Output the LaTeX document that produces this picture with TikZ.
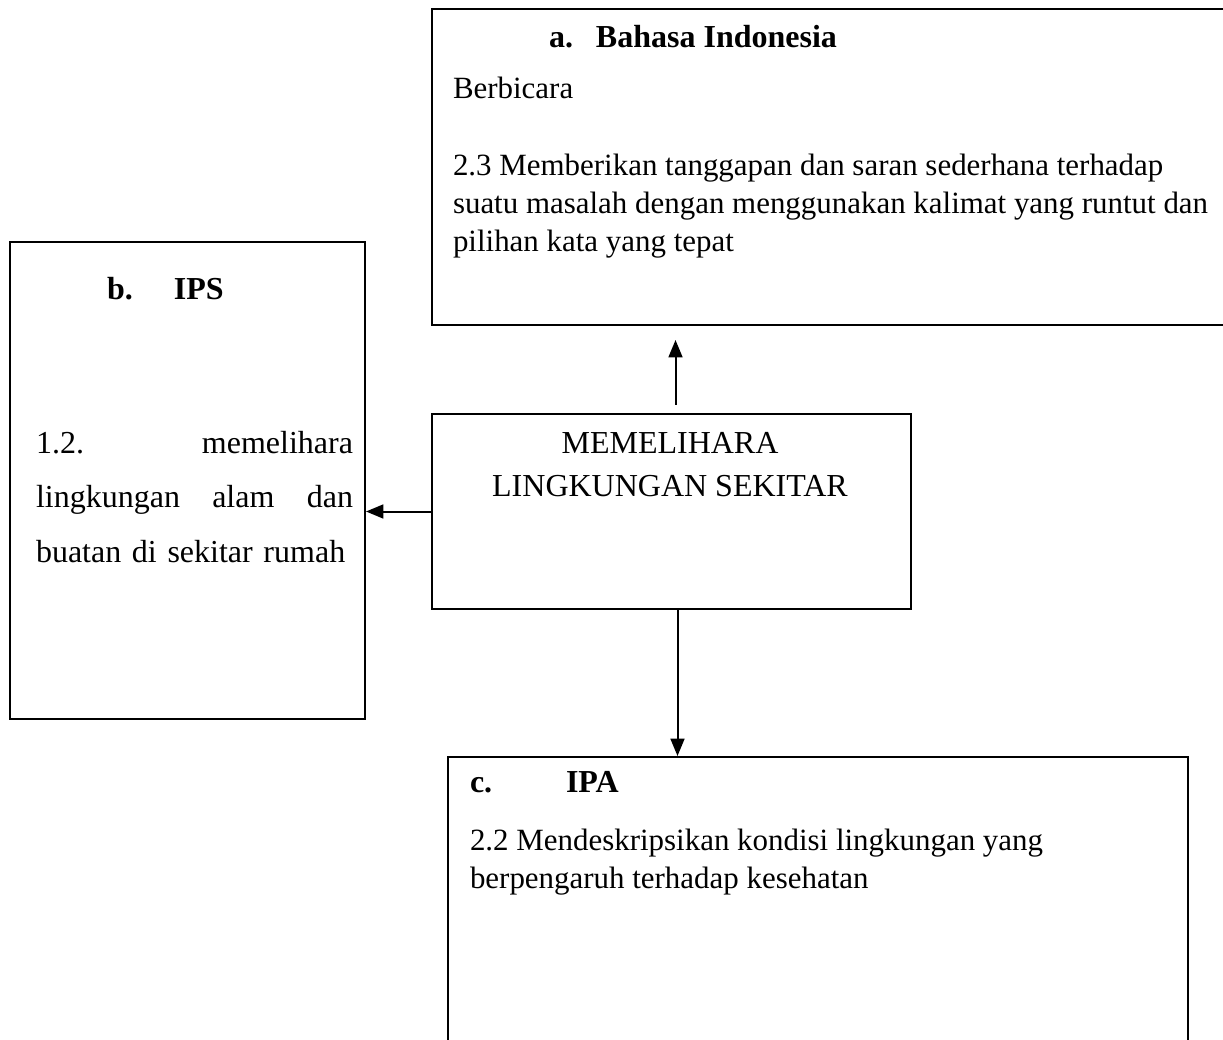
\documentclass[tikz,border=0pt]{standalone}
\usepackage{fontspec}
\setmainfont{Liberation Serif}
\usetikzlibrary{arrows.meta}
\newlength\px
\setlength\px{0.375pt}

\begin{document}
\begin{tikzpicture}[x=\px, y=-\px, line width=0.75pt,
		>={Triangle[length=6.5pt,width=5.2pt]},
		box/.style={draw, anchor=north west, inner sep=0pt},
		txt/.style={anchor=base west, inner sep=0pt, align=left, font=\fontsize{11.6pt}{14.25pt}\selectfont},
		head/.style={txt, font=\fontsize{12pt}{14.25pt}\selectfont\bfseries}]
				\useasboundingbox (0,0) rectangle (1223,1040);
				\clip (0,0) rectangle (1223,1040);
				% boxes
				\node[box, minimum width=810\px, minimum height=316\px] (a) at (431,8) {};
				\node[box, minimum width=355\px, minimum height=477\px] (b) at (9,241) {};
				\node[box, minimum width=479\px, minimum height=195\px] (m) at (431,413) {};
				\node[box, minimum width=740\px, minimum height=320\px] (c) at (447,756) {};
				% texts (multi-line nodes sit on their last line)
				\node[head] (ahead) at (548,48) {\makebox[47\px][l]{a.}Bahasa Indonesia};
				\node[txt] (asub) at (452,99) {Berbicara};
				\node[txt] (atext) at (452,252) {2.3 Memberikan tanggapan dan saran sederhana terhadap\\suatu masalah dengan menggunakan kalimat yang runtut dan\\pilihan kata yang tepat};
				\node[head] (bhead) at (106,300) {\makebox[67\px][l]{b.}IPS};
				\node[txt, text width=317\px, font=\fontsize{12pt}{20.6pt}\selectfont] (btext) at (35,453) {1.2.\hfill memelihara\\lingkungan\hfill alam\hfill dan\\buatan di sekitar rumah};
				\node[txt, anchor=base, align=center, font=\fontsize{12pt}{16.5pt}\selectfont] (mtext) at (670,497) {MEMELIHARA\\LINGKUNGAN SEKITAR};
				\node[head] (chead) at (469,792) {\makebox[96\px][l]{c.}IPA};
				\node[txt] (ctext) at (469,888) {2.2 Mendeskripsikan kondisi lingkungan yang\\berpengaruh terhadap kesehatan};
				% arrows
				\draw[->, shorten <=8\px, shorten >=14\px] ([xshift=4\px]m.north) -- ([xshift=4\px]m.north |- a.south);
				\draw[->] (m.west) -- (m.west -| b.east);
				\draw[->] ([xshift=6\px]m.south) -- ([xshift=6\px]m.south |- c.north);
			\end{tikzpicture}
\end{document}
